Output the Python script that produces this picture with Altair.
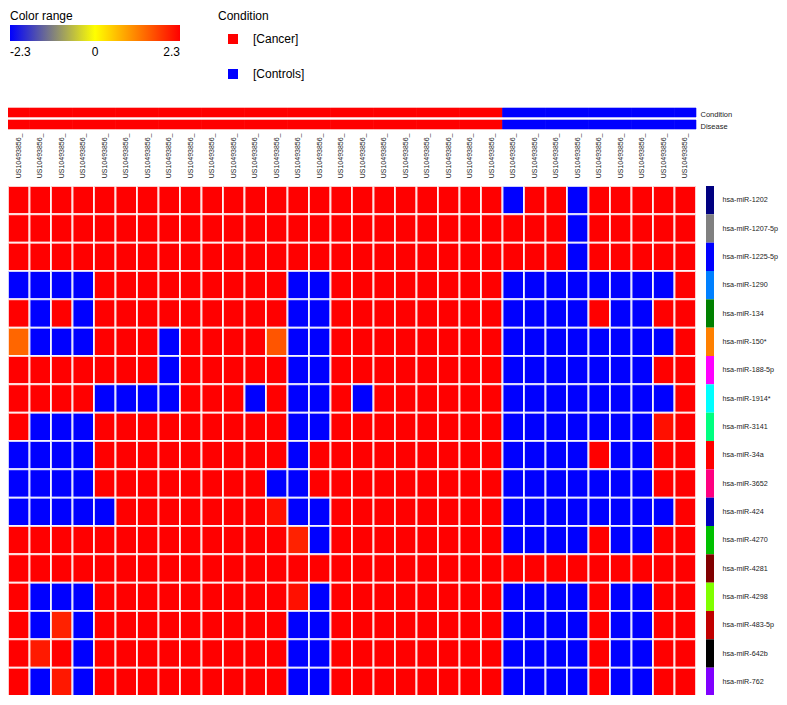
import altair as alt
import pandas as pd

# ---------------- data ----------------
rows = [
    "hsa-miR-1202", "hsa-miR-1207-5p", "hsa-miR-1225-5p", "hsa-miR-1290",
    "hsa-miR-134", "hsa-miR-150*", "hsa-miR-188-5p", "hsa-miR-1914*",
    "hsa-miR-3141", "hsa-miR-34a", "hsa-miR-3652", "hsa-miR-424",
    "hsa-miR-4270", "hsa-miR-4281", "hsa-miR-4298", "hsa-miR-483-5p",
    "hsa-miR-642b", "hsa-miR-762",
]
strip_colors = [
    "#000080", "#808080", "#0000ff", "#0080ff", "#008000", "#ff8000",
    "#ff00ff", "#00ffff", "#00ff80", "#ff0000", "#ff0080", "#0000c0",
    "#00c000", "#800000", "#80ff00", "#c00000", "#000000", "#8000ff",
]
col_ids = [f"c{i:02d}" for i in range(32)]
col_label = "US10493856_"
condition_names = ["[Cancer]", "[Controls]"]
condition_colors = ["#ff0000", "#0000ff"]
conditions = ["[Cancer]"] * 23 + ["[Controls]"] * 9
tracks = ["Condition", "Disease"]

R, B = 2.3, -2.3
values = [
    # 1202
    [R]*23 + [B, R, R, B, R, R, R, R, R],
    # 1207-5p
    [R]*26 + [B] + [R]*5,
    # 1225-5p
    [R]*26 + [B] + [R]*5,
    # 1290
    [B]*4 + [R]*9 + [B, B] + [R]*8 + [B]*8 + [R],
    # 134
    [R, B, R, B] + [R]*9 + [B, B] + [R]*8 + [B, B, B, B, R, B, B, R, R],
    # 150*
    [1.38, B, B, B, R, R, R, B, R, R, R, R, 1.53, B, B] + [R]*8 + [B]*8 + [R],
    # 188-5p
    [R]*7 + [B] + [R]*5 + [B, B] + [R]*8 + [B]*7 + [R, R],
    # 1914*
    [R, R, R, R, B, B, B, B, R, R, R, B, R, B, B, R, B] + [R]*6 + [B]*8 + [R],
    # 3141
    [R, B, B, B] + [R]*9 + [B, B] + [R]*8 + [B]*7 + [2.16, R],
    # 34a
    [B]*4 + [R]*9 + [B] + [R]*9 + [B, B, B, B, R, B, B, R, R],
    # 3652
    [B]*4 + [R]*8 + [B, B] + [R]*9 + [B]*7 + [R, R],
    # 424
    [B]*5 + [R]*7 + [2.16, B, B] + [R]*8 + [B]*8 + [R],
    # 4270
    [R]*13 + [1.99, B] + [R]*8 + [B, B, B, B, R, B, B, R, R],
    # 4281
    [R]*32,
    # 4298
    [R, B, B, B] + [R]*9 + [2.16, B] + [R]*8 + [B, B, B, B, R, B, B, R, R],
    # 483-5p
    [R, B, 1.99, B] + [R]*9 + [B, B] + [R]*8 + [B, B, B, B, R, B, B, R, R],
    # 642b
    [R, 2.07, R, B] + [R]*9 + [B, B] + [R]*8 + [B, B, B, B, R, B, B, R, R],
    # 762
    [R, B, 2.08, B] + [R]*9 + [B, B] + [R]*8 + [B, B, B, B, R, B, B, R, R],
]

heat_df = pd.DataFrame(
    [{"row": rows[r], "col": col_ids[c], "value": values[r][c]}
     for r in range(len(rows)) for c in range(len(col_ids))]
)
cond_df = pd.DataFrame(
    [{"col": col_ids[c], "track": t, "condition": conditions[c]}
     for t in tracks for c in range(len(col_ids))]
)
strip_df = pd.DataFrame({"row": rows, "hex": strip_colors})

# ---------------- layout ----------------
W = 688
H = 510
TOP = 100          # room above the condition bars for the legends
LEG_Y = -TOP + 3   # legends sit a little below the very top edge
TOTAL_W = 771
TOTAL_H = 687
FONT = "Liberation Sans"

fill_scale = alt.Scale(domain=condition_names + rows, range=condition_colors + strip_colors)
stroke_scale = alt.Scale(domain=condition_names, range=condition_colors)

cond_legend = alt.Legend(title="Condition", orient="none", legendX=210, legendY=LEG_Y,
                         values=condition_names,
                         symbolType="square", symbolSize=100, symbolStrokeWidth=0,
                         symbolOffset=9, labelOffset=14, labelFontSize=12,
                         labelFont=FONT, titleFont=FONT, titleFontSize=12,
                         titleFontWeight="normal", titlePadding=10, rowPadding=23,
                         titleColor="#000000", labelColor="#000000")

top = alt.Chart(cond_df).mark_rect(strokeWidth=0.6).encode(
    x=alt.X("col:O", sort=col_ids, scale=alt.Scale(paddingInner=0, paddingOuter=0),
            axis=alt.Axis(orient="bottom", title=None, labelAngle=-90,
                          labelExpr=f"'{col_label}'", labelFontSize=7, labelFont=FONT,
                          labelColor="#222222", ticks=False, domain=False,
                          labelPadding=4, labelAlign="right", labelBaseline="middle")),
    y=alt.Y("track:N", sort=tracks, scale=alt.Scale(paddingInner=0.25, paddingOuter=0),
            axis=alt.Axis(orient="right", title=None, ticks=False, domain=False,
                          labelFontSize=7.5, labelFont=FONT, labelPadding=4,
                          labelColor="#222222", labelOffset=2)),
    fill=alt.Fill("condition:N", scale=fill_scale, legend=cond_legend),
    stroke=alt.Stroke("condition:N", scale=stroke_scale, legend=None),
).properties(width=W, height=21)

heat = alt.Chart(heat_df).mark_rect(stroke="white", strokeWidth=2, strokeOpacity=0.8).encode(
    x=alt.X("col:O", sort=col_ids, scale=alt.Scale(paddingInner=0, paddingOuter=0), axis=None),
    y=alt.Y("row:O", sort=rows, scale=alt.Scale(paddingInner=0, paddingOuter=0), axis=None),
    color=alt.Color("value:Q",
                    scale=alt.Scale(domain=[-2.3, 0, 2.3], range=["#0000ff", "#ffff00", "#ff0000"],
                                    interpolate="rgb", clamp=True),
                    legend=alt.Legend(title="Color range", orient="none", legendX=2, legendY=LEG_Y,
                                      direction="horizontal", gradientLength=170,
                                      gradientThickness=16, values=[-2.3, 0, 2.3],
                                      labelExpr="datum.value == 0 ? '0' : (datum.value < 0 ? '-' : '') + format(abs(datum.value), '.1f')",
                                      labelFontSize=12, labelFont=FONT, titleFont=FONT,
                                      titleFontSize=12, titleFontWeight="normal",
                                      titlePadding=2, labelOffset=6, gradientStrokeWidth=0,
                                      titleColor="#000000", labelColor="#000000")),
).properties(width=W, height=H)

strip = alt.Chart(strip_df).mark_rect().encode(
    y=alt.Y("row:O", sort=rows, scale=alt.Scale(paddingInner=0, paddingOuter=0),
            axis=alt.Axis(orient="right", title=None, ticks=False, domain=False,
                          labelFontSize=7.2, labelFont=FONT, labelPadding=8,
                          labelColor="#222222")),
    x=alt.value(0),
    x2=alt.value(8),
    fill=alt.Fill("row:N", scale=fill_scale, legend=cond_legend),
).properties(width=8, height=H)

bottom = alt.hconcat(heat, strip, spacing=9)

chart = alt.vconcat(top, bottom, spacing=7).properties(
    autosize=alt.AutoSizeParams(type="none"),
    padding={"left": 0, "top": TOP, "right": TOTAL_W, "bottom": TOTAL_H - TOP},
    background="white",
).configure_view(stroke=None)

chart.save("out.html", embed_options={"renderer": "svg", "actions": False})
